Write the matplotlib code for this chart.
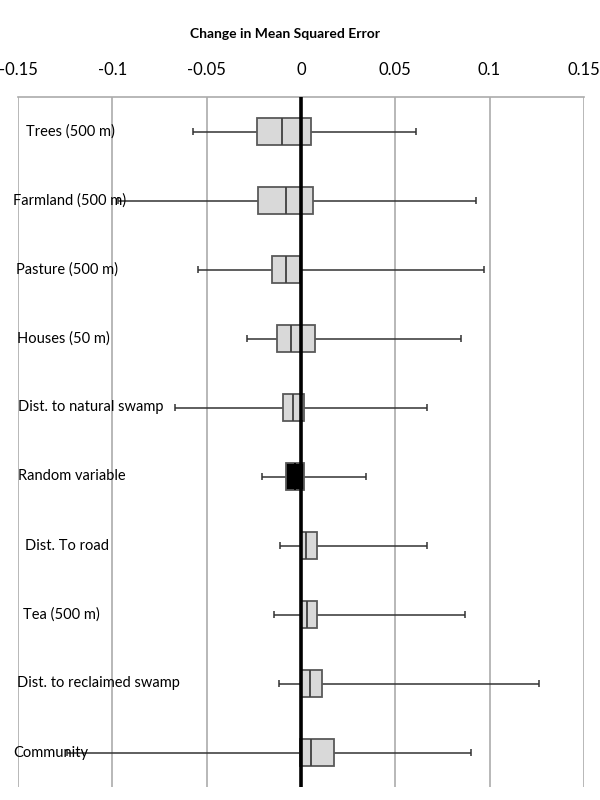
import matplotlib
matplotlib.use('Agg')
import matplotlib.pyplot as plt

# variables, top to bottom
labels = ['Trees (500 m)', 'Farmland (500 m)', 'Pasture (500 m)', 'Houses (50 m)',
          'Dist. to natural swamp', 'Random variable', 'Dist. To road', 'Tea (500 m)',
          'Dist. to reclaimed swamp', 'Community']
whisk_lo = [-0.057, -0.097, -0.0548, -0.0285, -0.0668, -0.0207, -0.0111, -0.0145, -0.0118, -0.124]
q1 = [-0.0232, -0.0226, -0.0152, -0.0126, -0.0097, -0.0081, 0.0, 0.0, 0.0, -0.0007]
med = [-0.0102, -0.0081, -0.0078, -0.0053, -0.0044, -0.003, 0.0027, 0.003, 0.0046, 0.0053]
q3 = [0.0053, 0.0065, -0.0004, 0.0073, 0.0019, 0.0018, 0.0087, 0.0083, 0.0113, 0.0177]
whisk_hi = [0.0608, 0.0928, 0.0972, 0.085, 0.067, 0.0346, 0.067, 0.0871, 0.126, 0.0903]
xticks = [-0.15, -0.1, -0.05, 0, 0.05, 0.1, 0.15]
xtick_labels = ['-0.15', '-0.1', '-0.05', '0', '0.05', '0.1', '0.15']

# left edge of each label (in data units)
label_x = [-0.1457, -0.1526, -0.1510, -0.1505, -0.1500, -0.1500, -0.1463, -0.1473, -0.1505, -0.1526]

plt.rcParams['font.family'] = ['Lato', 'DejaVu Sans']

fig = plt.figure(figsize=(6, 8), dpi=100)
ax = fig.add_axes([0.03, 0.01625, 0.943, 0.8625])

n = len(labels)
ys = list(range(n))
for i, y in enumerate(ys):
    is_random = labels[i] == 'Random variable'
    face = 'black' if is_random else '#d9d9d9'
    # whiskers
    ax.hlines(y, whisk_lo[i], q1[i], color='#333333', lw=1.1, zorder=2)
    ax.hlines(y, q3[i], whisk_hi[i], color='#333333', lw=1.1, zorder=2)
    ax.vlines([whisk_lo[i], whisk_hi[i]], y - 0.045, y + 0.045, color='#333333', lw=1.1, zorder=2)
    # box
    ax.barh(y, q3[i] - q1[i], left=q1[i], height=0.4, color=face,
            edgecolor='#595959', linewidth=1.3, zorder=3)
    ax.vlines(med[i], y - 0.2, y + 0.2, color='#404040' if not is_random else 'black',
              lw=1.3, zorder=4)
    ax.text(label_x[i], y, labels[i], fontsize=10.5, ha='left', va='center',
            color='black', zorder=5)

ax.axvline(0, color='black', lw=2.6, zorder=6)

ax.set_xlim(-0.15, 0.15)
ax.set_ylim(n - 0.5, -0.5)
ax.set_xticks(xticks)
ax.set_xticklabels(xtick_labels, fontsize=12)
ax.xaxis.tick_top()
ax.tick_params(axis='x', length=0, pad=14)
ax.set_yticks([])
ax.grid(axis='x', color='#ababab', lw=1.2, zorder=0)
ax.set_axisbelow(True)
for s in ['left', 'right', 'bottom']:
    ax.spines[s].set_visible(False)
ax.spines['top'].set_color('#ababab')
ax.spines['top'].set_linewidth(1.2)

fig.text(0.475, 0.957, 'Change in Mean Squared Error', fontsize=10, fontweight='bold',
         ha='center', va='center')

fig.savefig('out.png', dpi=100)
